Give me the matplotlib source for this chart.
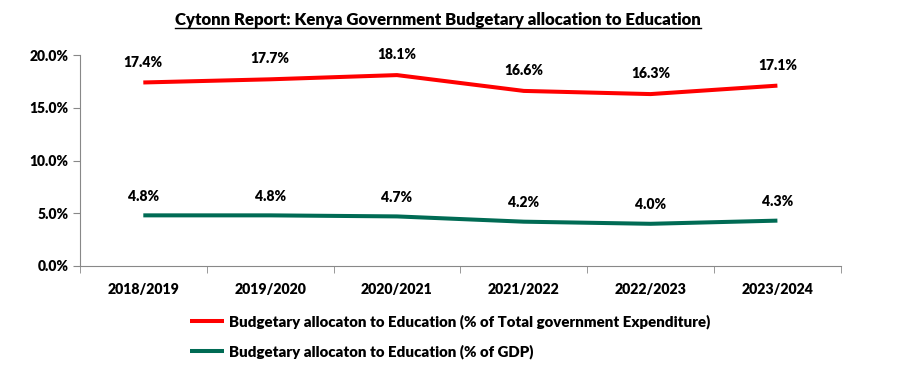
import matplotlib.pyplot as plt
from matplotlib.lines import Line2D
from matplotlib.ticker import FuncFormatter, FixedLocator

years = ["2018/2019", "2019/2020", "2020/2021", "2021/2022", "2022/2023", "2023/2024"]
share_of_expenditure = [17.4, 17.7, 18.1, 16.6, 16.3, 17.1]
share_of_gdp = [4.8, 4.8, 4.7, 4.2, 4.0, 4.3]

plt.rcParams["font.family"] = ["Lato", "DejaVu Sans"]
plt.rcParams["font.weight"] = "heavy"
W = "heavy"

fig = plt.figure(figsize=(9.08, 3.72), dpi=100)
ax = fig.add_axes([0.088, 0.285, 0.838, 0.567])

x = list(range(len(years)))
ax.plot(x, share_of_expenditure, color="#ff0000", lw=2.9, solid_capstyle="butt",
        label="Budgetary allocaton to Education (% of Total government Expenditure)")
ax.plot(x, share_of_gdp, color="#006b54", lw=2.9, solid_capstyle="butt",
        label="Budgetary allocaton to Education (% of GDP)")

for xi, v in zip(x, share_of_expenditure):
    ax.annotate(f"{v:.1f}%", (xi, v), xytext=(0, 10), textcoords="offset points",
                ha="center", va="bottom", fontsize=10, fontweight=W)
for xi, v in zip(x, share_of_gdp):
    ax.annotate(f"{v:.1f}%", (xi, v), xytext=(0, 9), textcoords="offset points",
                ha="center", va="bottom", fontsize=10, fontweight=W)

ax.set_xlim(-0.5, len(years) - 0.5)
ax.set_ylim(0, 20)
ax.set_yticks([0, 5, 10, 15, 20])
ax.yaxis.set_major_formatter(FuncFormatter(lambda v, p: f"{v:.1f}%"))
ax.set_xticks(x)
ax.set_xticklabels(years, fontsize=10.2, fontweight=W)
ax.tick_params(axis="x", length=0, pad=12)
ax.xaxis.set_minor_locator(FixedLocator([i - 0.5 for i in range(len(years) + 1)]))
ax.tick_params(axis="x", which="minor", length=5, direction="out", color="#888888")
ax.tick_params(axis="y", length=5, direction="out", color="#888888", labelsize=10, pad=3)
for lab in ax.get_yticklabels():
    lab.set_fontweight(W)

for side in ["top", "right"]:
    ax.spines[side].set_visible(False)
ax.spines["left"].set_color("#888888")
ax.spines["bottom"].set_color("#888888")

leg = fig.legend(loc="upper left", bbox_to_anchor=(0.209, 0.155), frameon=False,
                 fontsize=10.8, handlelength=2.3, handletextpad=0.3, labelspacing=1.0,
                 borderaxespad=0, borderpad=0)
for t in leg.get_texts():
    t.set_fontweight(W)

title = fig.text(0.482, 0.945, "Cytonn Report: Kenya Government Budgetary allocation to Education",
                 ha="center", va="center", fontsize=12.1, fontweight=W)
fig.canvas.draw()
bb = title.get_window_extent().transformed(fig.transFigure.inverted())
fig.add_artist(Line2D([bb.x0, bb.x1], [bb.y0 + 0.002, bb.y0 + 0.002],
                      transform=fig.transFigure, color="black", lw=1))

fig.savefig("out.png", dpi=100)
